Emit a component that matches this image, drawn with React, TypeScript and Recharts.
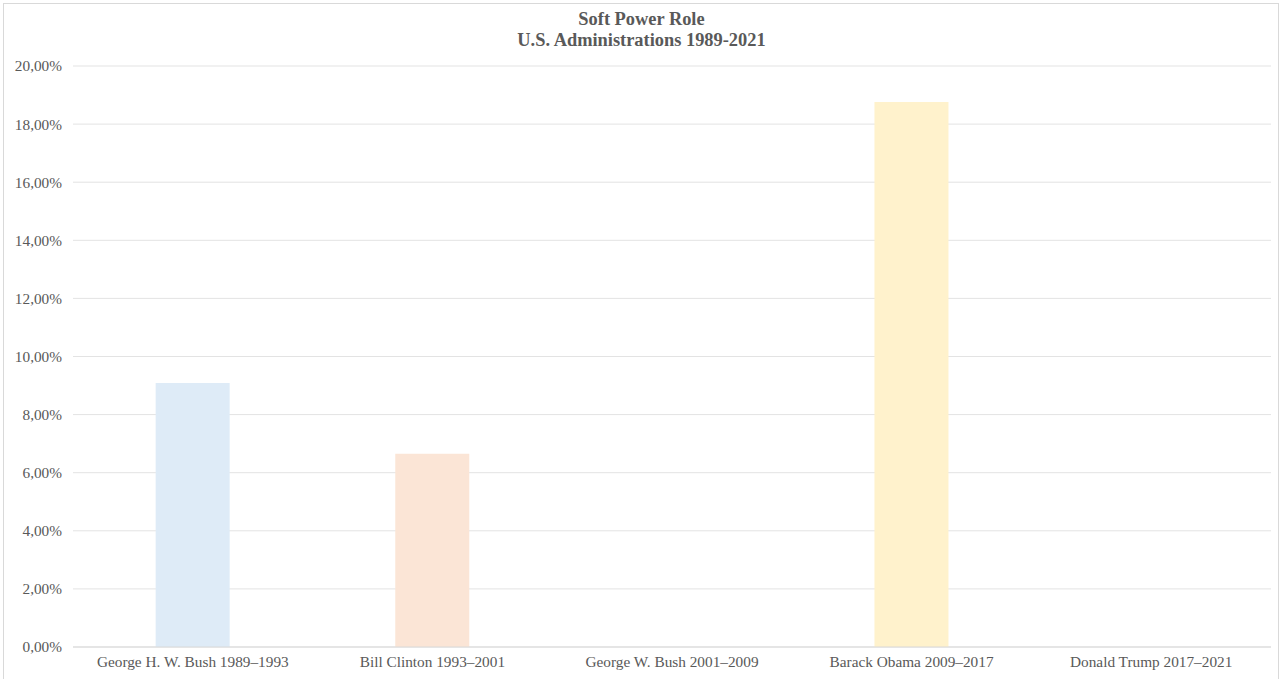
import React from "react";
import { BarChart, Bar, XAxis, YAxis, CartesianGrid, Cell } from "recharts";

const categories = [
  "George H. W. Bush 1989–1993",
  "Bill Clinton 1993–2001",
  "George W. Bush 2001–2009",
  "Barack Obama 2009–2017",
  "Donald Trump 2017–2021",
];
const softPowerValues = [9.09, 6.65, 0, 18.76, 0];
const barColors = ["#DEEBF7", "#FBE5D6", "#E2F0D9", "#FFF2CC", "#DAE3F3"];
const yTicks = [0, 2, 4, 6, 8, 10, 12, 14, 16, 18, 20];

const data = categories.map((name, i) => ({ name, value: softPowerValues[i] }));

const fmt = (v: number) => v.toFixed(2).replace(".", ",") + "%";
const FONT = "'Liberation Serif', 'Times New Roman', serif";

export default function App() {
  return (
    <div style={{ position: "absolute", left: 0, top: 0, width: 1283, height: 679, background: "#fff" }}>
      <div
        style={{
          position: "absolute",
          left: 3,
          top: 3,
          width: 1276,
          height: 680,
          border: "1px solid #d9d9d9",
          boxSizing: "border-box",
        }}
      />
      <div
        style={{
          position: "absolute",
          left: 0,
          top: 9,
          width: 1283,
          textAlign: "center",
          fontFamily: FONT,
          fontWeight: "bold",
          fontSize: 18.4,
          lineHeight: "21px",
          color: "#595959",
        }}
      >
        <div>Soft Power Role</div>
        <div>U.S. Administrations 1989-2021</div>
      </div>
      <div style={{ position: "absolute", left: 0, top: 0 }}>
        <BarChart
          width={1283}
          height={679}
          data={data}
          margin={{ top: 66, right: 12, bottom: 2, left: 0 }}
          barCategoryGap="34.5%"
        >
          <CartesianGrid vertical={false} stroke="#e3e3e3" strokeWidth={1} />
          <XAxis
            dataKey="name"
            axisLine={{ stroke: "#d9d9d9" }}
            tickLine={false}
            interval={0}
            height={30}
            tick={{ fontFamily: FONT, fontSize: 15.3, fill: "#595959" }}
            tickMargin={3}
          />
          <YAxis
            width={73}
            domain={[0, 20]}
            ticks={yTicks}
            tickFormatter={fmt}
            axisLine={false}
            tickLine={false}
            tickSize={0}
            tickMargin={11}
            tick={{ fontFamily: FONT, fontSize: 15.3, fill: "#595959" }}
          />
          <Bar dataKey="value" isAnimationActive={false}>
            {data.map((d, i) => (
              <Cell key={d.name} fill={barColors[i]} />
            ))}
          </Bar>
        </BarChart>
      </div>
    </div>
  );
}
